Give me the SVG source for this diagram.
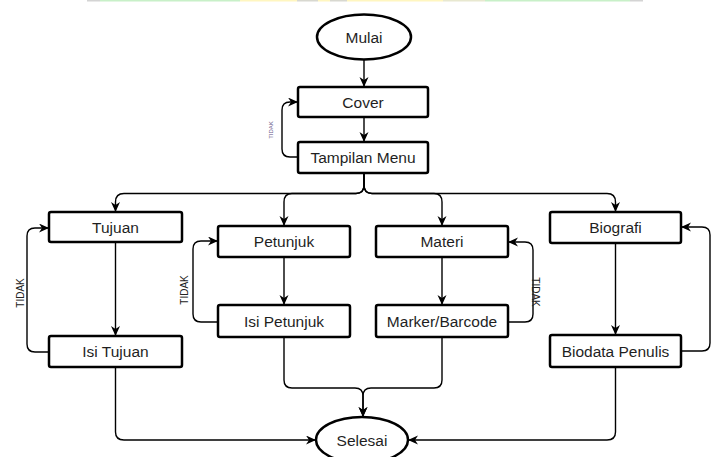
<svg xmlns="http://www.w3.org/2000/svg" width="712" height="457" viewBox="0 0 712 457">
<defs>
<marker id="arr" markerWidth="11" markerHeight="10" refX="10" refY="4.5" orient="auto" markerUnits="userSpaceOnUse">
<path d="M0,0 L10,4.5 L0,9 L3,4.5 Z" fill="#000"/>
</marker>
<style>
.box{fill:#fff;stroke:#000;stroke-width:2.5}
.t{font-family:"Liberation Sans",Arial,sans-serif;font-size:15.5px;fill:#1f1f1f;text-anchor:middle}
.c{fill:none;stroke:#000;stroke-width:1.4;marker-end:url(#arr)}
.lbl{font-family:"Liberation Sans",Arial,sans-serif;font-size:10px;fill:#222;text-anchor:middle}
</style>
</defs>
<rect width="712" height="457" fill="#fff"/>
<g id="topstrip">
<rect x="87" y="0" width="13" height="1.5" fill="#d4d4d4"/>
<rect x="100" y="0" width="140" height="1.5" fill="#c8f0c8"/>
<rect x="240" y="0" width="57" height="1.5" fill="#fff6c0"/>
<rect x="297" y="0" width="21" height="1.5" fill="#d8d8d0"/>
<rect x="318" y="0" width="12" height="1.5" fill="#fff6c0"/>
<rect x="330" y="0" width="17" height="1.5" fill="#d8d8d0"/>
<rect x="347" y="0" width="96" height="1.5" fill="#fff6c0"/>
<rect x="443" y="0" width="42" height="1.5" fill="#e8e8d0"/>
<rect x="485" y="0" width="145" height="1.5" fill="#c8f0c8"/>
<rect x="630" y="0" width="13" height="1.5" fill="#d4d4d4"/>
</g>
<g id="connectors">
<path class="c" d="M364,60 L364,87"/>
<path class="c" d="M364,117 L364,142"/>
<path class="c" d="M298,157 L290,157 Q282,157 282,149 L282,110 Q282,102 290,102 L298,102"/>
<path class="c" d="M364,173 L364,185 Q364,193.5 356,193.5 L124,193.5 Q115.5,193.5 115.5,202 L115.5,212"/>
<path class="c" d="M364,173 L364,185 Q364,193.5 356,193.5 L292,193.5 Q284,193.5 284,202 L284,226"/>
<path class="c" d="M364,173 L364,185 Q364,193.5 372,193.5 L434,193.5 Q442,193.5 442,202 L442,226"/>
<path class="c" d="M364,173 L364,185 Q364,193.5 372,193.5 L607,193.5 Q615.5,193.5 615.5,202 L615.5,212"/>
<path class="c" d="M115.5,242 L115.5,336"/>
<path class="c" d="M49,352 L35,352 Q27,352 27,344 L27,236 Q27,228 35,228 L49,228"/>
<path class="c" d="M284,257 L284,305"/>
<path class="c" d="M218,322 L201,322 Q193,322 193,314 L193,249 Q193,241 201,241 L218,241"/>
<path class="c" d="M442,257 L442,305"/>
<path class="c" d="M508,322 L525,322 Q533,322 533,314 L533,250 Q533,242 525,242 L508,242"/>
<path class="c" d="M615.5,243 L615.5,335"/>
<path class="c" d="M681,351 L702,351 Q710,351 710,343 L710,235 Q710,227 702,227 L681,227"/>
<path class="c" d="M115.5,367 L115.5,432 Q115.5,440 124,440 L316,440"/>
<path class="c" d="M284,337 L284,380 Q284,388 292,388 L355,388 Q363,388 363,396 L363,417"/>
<path class="c" d="M442,337 L442,380 Q442,388 434,388 L371,388 Q363,388 363,396 L363,417"/>
<path class="c" d="M615.5,367 L615.5,432 Q615.5,440 607,440 L408,440"/>
<text transform="translate(273,130) rotate(-90)" style="font-family:'Liberation Sans',Arial,sans-serif;font-size:6px;fill:#6a5a8a;text-anchor:middle">TIDAK</text>
<text class="lbl" transform="translate(24,293) rotate(-90)">TIDAK</text>
<text class="lbl" transform="translate(188,290) rotate(-90)">TIDAK</text>
<text class="lbl" transform="translate(532,292) rotate(90)">TIDAK</text>
<text transform="translate(716,296) rotate(90)" style="font-family:'Liberation Sans',Arial,sans-serif;font-size:10px;fill:#c89060;text-anchor:middle">TIDAK</text>
</g>
<g id="mulai"><ellipse class="box" cx="364" cy="37" rx="47" ry="22.5"/><text class="t" x="364" y="42.5">Mulai</text></g>
<g id="cover"><rect class="box" x="298" y="87" width="130" height="30" rx="2"/><text class="t" x="363" y="107.5">Cover</text></g>
<g id="tampilan"><rect class="box" x="298" y="142" width="130" height="31" rx="2"/><text class="t" x="363" y="163">Tampilan Menu</text></g>
<g id="tujuan"><rect class="box" x="49" y="212" width="133" height="30" rx="2"/><text class="t" x="115.5" y="232.5">Tujuan</text></g>
<g id="isitujuan"><rect class="box" x="49" y="336" width="133" height="31" rx="2"/><text class="t" x="115.5" y="357">Isi Tujuan</text></g>
<g id="petunjuk"><rect class="box" x="218" y="226" width="132" height="31" rx="2"/><text class="t" x="284" y="247">Petunjuk</text></g>
<g id="isipetunjuk"><rect class="box" x="218" y="305" width="132" height="32" rx="2"/><text class="t" x="284" y="326.5">Isi Petunjuk</text></g>
<g id="materi"><rect class="box" x="376" y="226" width="132" height="31" rx="2"/><text class="t" x="442" y="247">Materi</text></g>
<g id="marker"><rect class="box" x="376" y="305" width="132" height="32" rx="2"/><text class="t" x="442" y="326.5">Marker/Barcode</text></g>
<g id="biografi"><rect class="box" x="550" y="212" width="131" height="31" rx="2"/><text class="t" x="615.5" y="233">Biografi</text></g>
<g id="biodata"><rect class="box" x="550" y="335" width="131" height="32" rx="2"/><text class="t" x="615.5" y="356.5">Biodata Penulis</text></g>
<g id="selesai"><ellipse class="box" cx="362" cy="440" rx="46" ry="23"/><text class="t" x="362" y="445.5">Selesai</text></g>
</svg>
